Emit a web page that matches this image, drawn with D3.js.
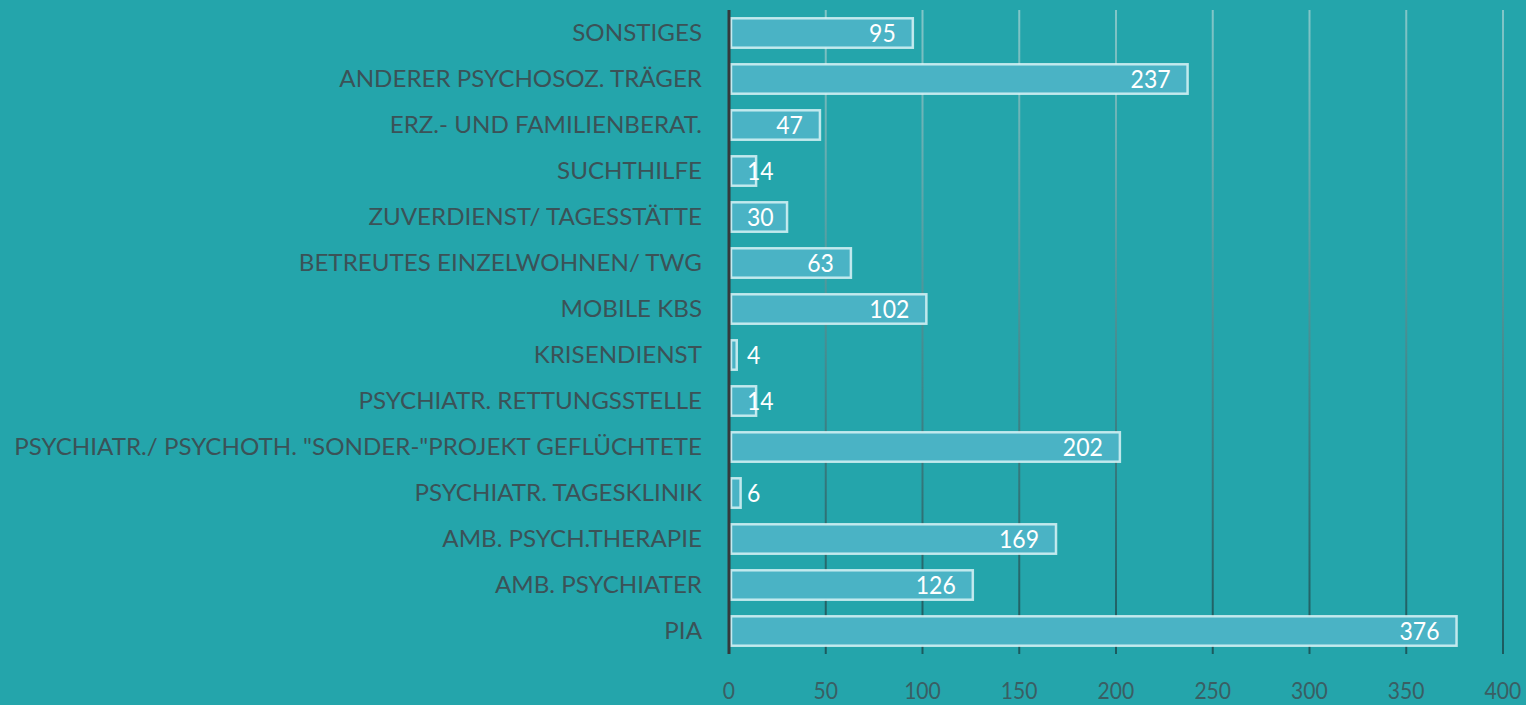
<!DOCTYPE html>
<html>
<head>
<meta charset="utf-8">
<script src="https://cdn.jsdelivr.net/npm/d3@7"></script>
<style>
  html, body { margin: 0; padding: 0; background: #24a5ab; overflow: hidden; }
  svg { display: block; }
</style>
</head>
<body>
<div id="chart"></div>
<script>
const categories = [
    "SONSTIGES",
    "ANDERER PSYCHOSOZ. TRÄGER",
    "ERZ.- UND FAMILIENBERAT.",
    "SUCHTHILFE",
    "ZUVERDIENST/ TAGESSTÄTTE",
    "BETREUTES EINZELWOHNEN/ TWG",
    "MOBILE KBS",
    "KRISENDIENST",
    "PSYCHIATR. RETTUNGSSTELLE",
    "PSYCHIATR./ PSYCHOTH. \"SONDER-\"PROJEKT GEFLÜCHTETE",
    "PSYCHIATR. TAGESKLINIK",
    "AMB. PSYCH.THERAPIE",
    "AMB. PSYCHIATER",
    "PIA"
];
const values = [95, 237, 47, 14, 30, 63, 102, 4, 14, 202, 6, 169, 126, 376];
const ticks = [0, 50, 100, 150, 200, 250, 300, 350, 400];

const width = 1526, height = 705;
const x0 = 729, x1 = 1503, yTop = 10, yBottom = 654;
const fontFam = "Lato, 'Open Sans', sans-serif";

const svg = d3.select("#chart").append("svg")
    .attr("width", width)
    .attr("height", height);

const x = d3.scaleLinear().domain([0, 400]).range([x0, x1]);
const y = d3.scaleBand().domain(categories).range([yTop, yBottom])
    .paddingInner(0.36).paddingOuter(0.18);

// gridline gradient: light at top, dark at bottom
const grad = svg.append("defs").append("linearGradient")
    .attr("id", "gridGrad")
    .attr("gradientUnits", "userSpaceOnUse")
    .attr("x1", 0).attr("y1", yTop).attr("x2", 0).attr("y2", yBottom);
grad.append("stop").attr("offset", "0%").attr("stop-color", "#82c6c8");
grad.append("stop").attr("offset", "40%").attr("stop-color", "#529a9e");
grad.append("stop").attr("offset", "100%").attr("stop-color", "#1b5a5e");

svg.append("g")
    .selectAll("line")
    .data(ticks.slice(1))
    .join("line")
    .attr("x1", d => x(d)).attr("x2", d => x(d))
    .attr("y1", yTop).attr("y2", yBottom)
    .attr("stroke", "url(#gridGrad)")
    .attr("stroke-width", 2);

// tick labels
svg.append("g")
    .selectAll("text")
    .data(ticks)
    .join("text")
    .attr("x", d => x(d))
    .attr("y", 699)
    .attr("text-anchor", "middle")
    .attr("transform", d => `translate(${x(d)},0) scale(0.88,1) translate(${-x(d)},0)`)
    .style("font-family", fontFam)
    .style("font-size", "24px")
    .style("fill", "#3a5e63")
    .text(d => d);

// bars
svg.append("g")
    .selectAll("rect")
    .data(values)
    .join("rect")
    .attr("x", x(0) + 2)
    .attr("y", (d, i) => y(categories[i]))
    .attr("width", d => Math.max(x(d) - x(0) - 2, 1))
    .attr("height", y.bandwidth())
    .attr("fill", "#4ab3c5")
    .attr("stroke", "rgba(228,247,250,0.8)")
    .attr("stroke-width", 2.5);

// category labels (narrowed to the reference width)
const labelG = svg.append("g");
const labels = labelG.selectAll("text")
    .data(categories)
    .join("text")
    .attr("x", 702)
    .attr("y", d => y(d) + y.bandwidth() / 2)
    .attr("dy", "0.36em")
    .attr("text-anchor", "end")
    .style("font-family", fontFam)
    .style("font-size", "23.5px")
    .style("fill", "#3b5257")
    .text(d => d);

const longest = d3.max(labels.nodes(), n => n.getComputedTextLength());
const k = 688 / longest;
labelG.attr("transform", `translate(702,0) scale(${k},1) translate(-702,0)`);

// value labels
svg.append("g")
    .selectAll("text")
    .data(values)
    .join("text")
    .attr("y", (d, i) => y(categories[i]) + y.bandwidth() / 2)
    .attr("dy", "0.37em")
    .style("font-family", fontFam)
    .style("font-size", "25px")
    .style("fill", "#ffffff")
    .text(d => d)
    .each(function (d) {
        const w = this.getComputedTextLength() * 0.92;
        const left = Math.max(x(d) - 17 - w, x(0) + 18);
        d3.select(this)
            .attr("x", left)
            .attr("transform", `translate(${left},0) scale(0.92,1) translate(${-left},0)`);
    });

// y axis line
svg.append("line")
    .attr("x1", x(0)).attr("x2", x(0))
    .attr("y1", yTop).attr("y2", yBottom)
    .attr("stroke", "#34393b")
    .attr("stroke-width", 3);
</script>
</body>
</html>
